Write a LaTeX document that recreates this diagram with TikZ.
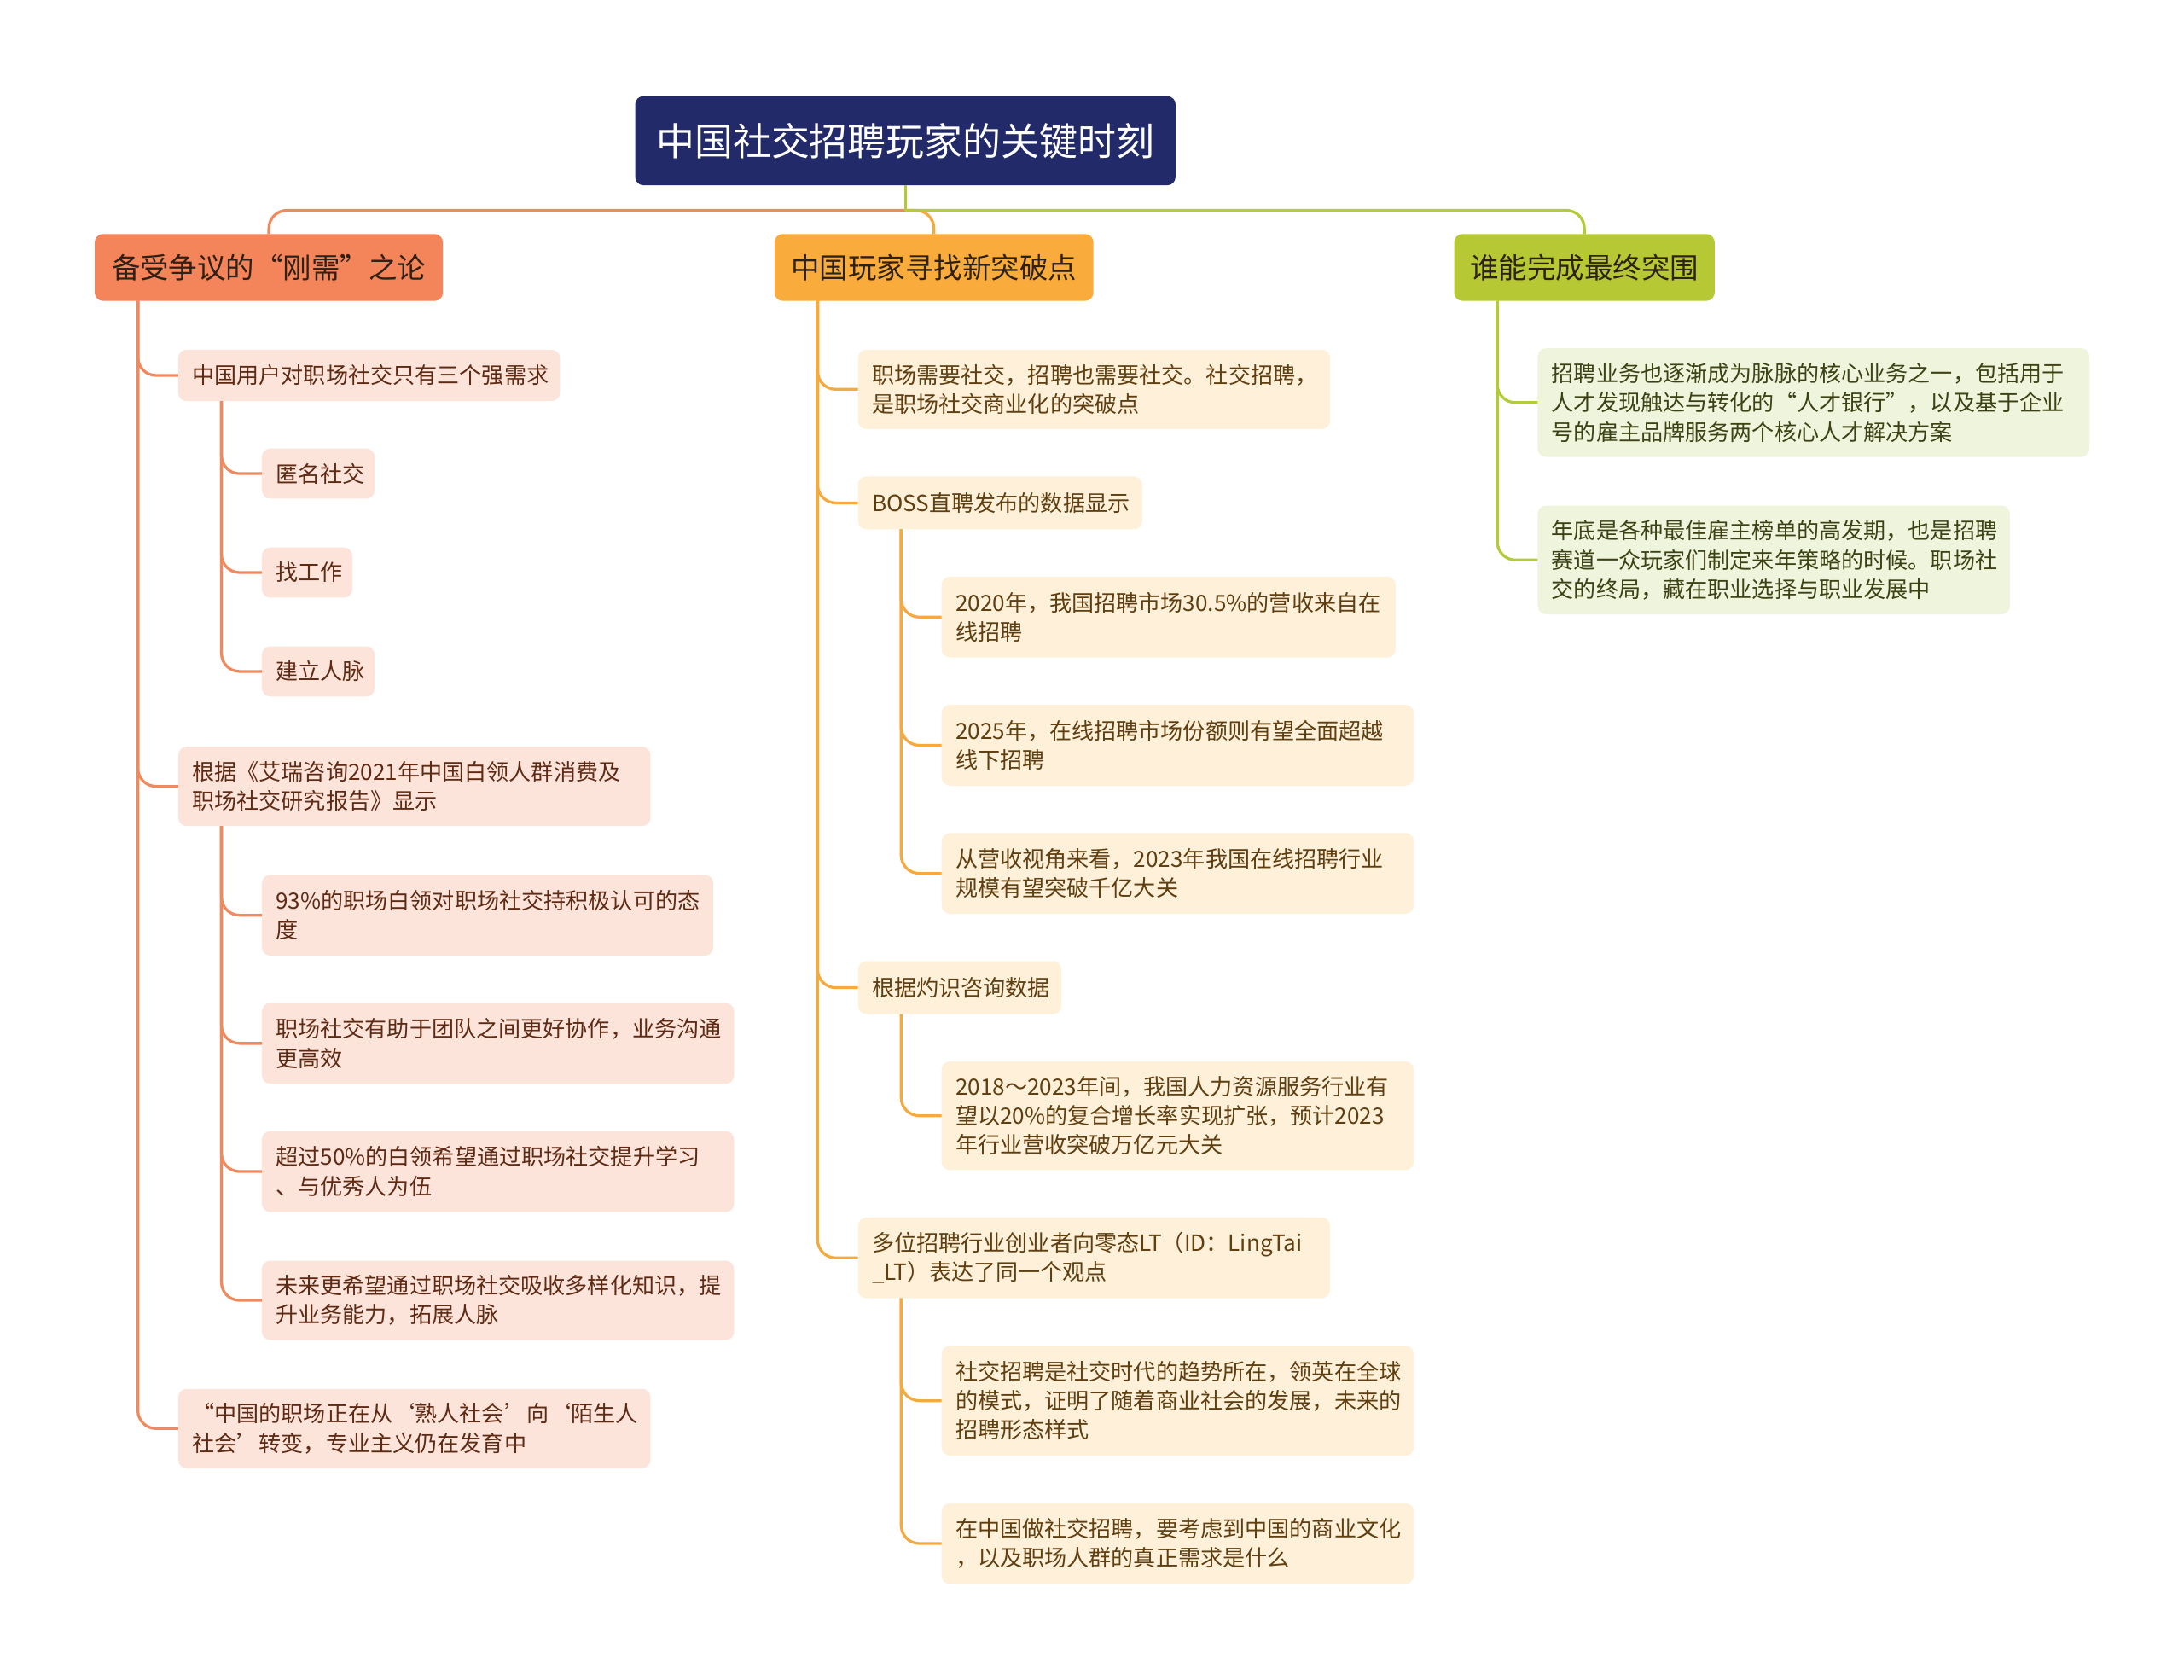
\documentclass[tikz,border=0pt]{standalone}
\usepackage{fontspec}
\setmainfont{Noto Sans CJK SC}
\usetikzlibrary{calc}
\definecolor{rootblue}{HTML}{232A6A}
\definecolor{oMain}{HTML}{F4845A}
\definecolor{oLight}{HTML}{FDE4DA}
\definecolor{oLine}{HTML}{EF8A5E}
\definecolor{oText}{HTML}{5E2A14}
\definecolor{aMain}{HTML}{F9AC3B}
\definecolor{aLight}{HTML}{FEF0D9}
\definecolor{aLine}{HTML}{F4AA3E}
\definecolor{aText}{HTML}{5F3E10}
\definecolor{gMain}{HTML}{B6C934}
\definecolor{gLight}{HTML}{EFF4DC}
\definecolor{gLine}{HTML}{B4CA36}
\definecolor{gText}{HTML}{3D4215}
\definecolor{bText}{HTML}{2E2118}
\begin{document}
\begin{tikzpicture}[x=1pt,y=-1pt,
  every node/.style={outer sep=0pt},
  rootbox/.style={fill=rootblue,text=white,rounded corners=6,anchor=north west,inner sep=0pt,
    minimum width=388,minimum height=64,align=center,font=\fontsize{27.5}{32}\selectfont},
  mainbox/.style={rounded corners=6,anchor=north west,inner sep=0pt,minimum height=48,
    align=center,text=bText,font=\fontsize{20.5}{24}\selectfont},
  leaf/.style={rounded corners=6,anchor=north west,inner xsep=10pt,inner ysep=0pt,
    align=left,font=\fontsize{16}{21}\selectfont},
  leafo/.style={leaf,fill=oLight,text=oText},
  leafa/.style={leaf,fill=aLight,text=aText},
  leafg/.style={leaf,fill=gLight,text=gText},
  conn/.style={line width=2pt,rounded corners=13},
  conno/.style={conn,draw=oLine},
  conna/.style={conn,draw=aLine},
  conng/.style={conn,draw=gLine}]
\useasboundingbox[fill=white] (0,0) rectangle (1568,1206);

% root and main branches
\node[rootbox] (root) at (456,69) {中国社交招聘玩家的关键时刻};
\node[mainbox,fill=oMain,minimum width=250] (B1) at (68,168) {备受争议的“刚需”之论};
\node[mainbox,fill=aMain,minimum width=229] (B2) at (556,168) {中国玩家寻找新突破点};
\node[mainbox,fill=gMain,minimum width=187] (B3) at (1044,168) {谁能完成最终突围};

% branch 1 leaves
\node[leafo,text width=254,minimum height=37] (a1) at (128,251) {中国用户对职场社交只有三个强需求};
\node[leafo,text width=61,minimum height=36] (a11) at (188,322) {匿名社交};
\node[leafo,text width=45,minimum height=36] (a12) at (188,393) {找工作};
\node[leafo,text width=61,minimum height=36] (a13) at (188,464) {建立人脉};
\node[leafo,text width=319,minimum height=57] (a2) at (128,536) {根据《艾瑞咨询2021年中国白领人群消费及\\职场社交研究报告》显示};
\node[leafo,text width=304,minimum height=58] (a21) at (188,628) {93\%的职场白领对职场社交持积极认可的态\\度};
\node[leafo,text width=319,minimum height=58] (a22) at (188,720) {职场社交有助于团队之间更好协作，业务沟通\\更高效};
\node[leafo,text width=319,minimum height=58] (a23) at (188,812) {超过50\%的白领希望通过职场社交提升学习\\、与优秀人为伍};
\node[leafo,text width=319,minimum height=57] (a24) at (188,905) {未来更希望通过职场社交吸收多样化知识，提\\升业务能力，拓展人脉};
\node[leafo,text width=319,minimum height=57] (a3) at (128,997) {“中国的职场正在从‘熟人社会’向‘陌生人\\社会’转变，专业主义仍在发育中};

% branch 2 leaves
\node[leafa,text width=319,minimum height=57] (b1) at (616,251) {职场需要社交，招聘也需要社交。社交招聘，\\是职场社交商业化的突破点};
\node[leafa,text width=184,minimum height=38] (b2) at (616,342) {BOSS直聘发布的数据显示};
\node[leafa,text width=306,minimum height=58] (b21) at (676,414) {2020年，我国招聘市场30.5\%的营收来自在\\线招聘};
\node[leafa,text width=319,minimum height=58] (b22) at (676,506) {2025年，在线招聘市场份额则有望全面超越\\线下招聘};
\node[leafa,text width=319,minimum height=58] (b23) at (676,598) {从营收视角来看，2023年我国在线招聘行业\\规模有望突破千亿大关};
\node[leafa,text width=126,minimum height=38] (b3) at (616,690) {根据灼识咨询数据};
\node[leafa,text width=319,minimum height=78] (b31) at (676,762) {2018～2023年间，我国人力资源服务行业有\\望以20\%的复合增长率实现扩张，预计2023\\年行业营收突破万亿元大关};
\node[leafa,text width=319,minimum height=58] (b4) at (616,874) {多位招聘行业创业者向零态LT（ID：LingTai\\\_LT）表达了同一个观点};
\node[leafa,text width=319,minimum height=79] (b41) at (676,966) {社交招聘是社交时代的趋势所在，领英在全球\\的模式，证明了随着商业社会的发展，未来的\\招聘形态样式};
\node[leafa,text width=319,minimum height=58] (b42) at (676,1079) {在中国做社交招聘，要考虑到中国的商业文化\\，以及职场人群的真正需求是什么};

% branch 3 leaves
\node[leafg,text width=376,minimum height=78] (c1) at (1104,250) {招聘业务也逐渐成为脉脉的核心业务之一，包括用于\\人才发现触达与转化的“人才银行”，以及基于企业\\号的雇主品牌服务两个核心人才解决方案};
\node[leafg,text width=319,minimum height=78] (c2) at (1104,363) {年底是各种最佳雇主榜单的高发期，也是招聘\\赛道一众玩家们制定来年策略的时候。职场社\\交的终局，藏在职业选择与职业发展中};

% root connectors
\coordinate (j) at (650,151);
\draw[conno] (j) -| (B1.north);
\draw[conna] (j) -| (B2.north);
\draw[conng] (j) -| (B3.north);
\draw[conng,rounded corners=0] (root.south) -- (j);

% branch 1 connectors
\foreach \c in {a1,a2,a3} \draw[conno] ($(B1.south west)+(31,0)$) |- (\c.west);
\foreach \c in {a11,a12,a13} \draw[conno] ($(a1.south west)+(31,0)$) |- (\c.west);
\foreach \c in {a21,a22,a23,a24} \draw[conno] ($(a2.south west)+(31,0)$) |- (\c.west);

% branch 2 connectors
\foreach \c in {b1,b2,b3,b4} \draw[conna] ($(B2.south west)+(31,0)$) |- (\c.west);
\foreach \c in {b21,b22,b23} \draw[conna] ($(b2.south west)+(31,0)$) |- (\c.west);
\draw[conna] ($(b3.south west)+(31,0)$) |- (b31.west);
\foreach \c in {b41,b42} \draw[conna] ($(b4.south west)+(31,0)$) |- (\c.west);

% branch 3 connectors
\foreach \c in {c1,c2} \draw[conng] ($(B3.south west)+(31,0)$) |- (\c.west);
\end{tikzpicture}
\end{document}
